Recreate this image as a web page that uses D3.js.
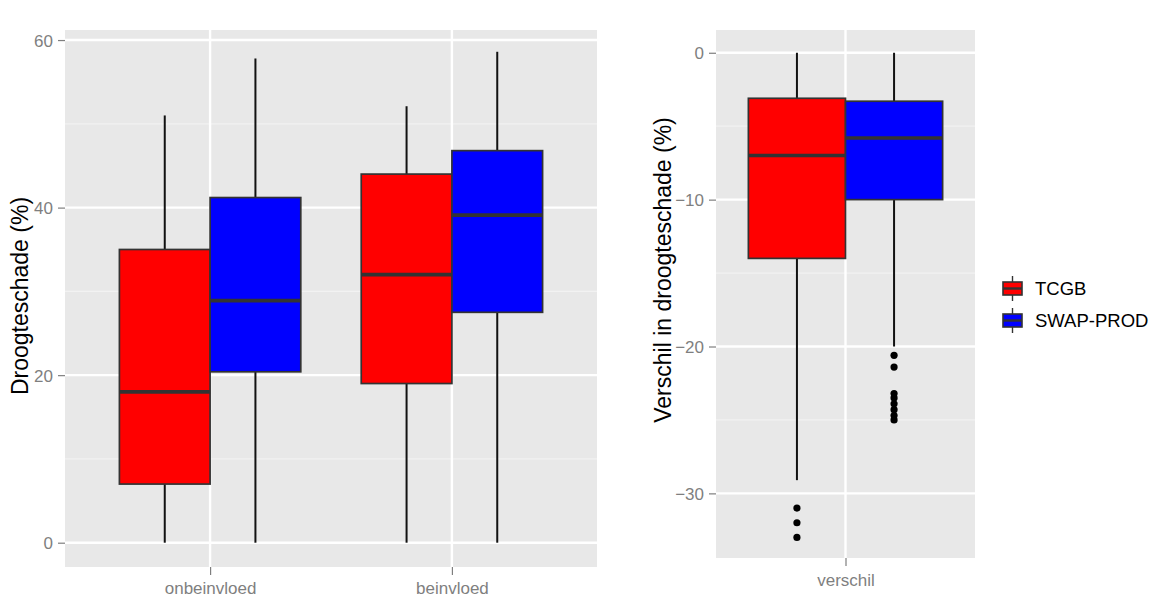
<!DOCTYPE html>
<html>
<head>
<meta charset="utf-8">
<script src="https://cdn.jsdelivr.net/npm/d3@7"></script>
<style>
  html, body { margin: 0; padding: 0; background: #fff; }
  svg { display: block; font-family: "Liberation Sans", Arial, sans-serif; }
</style>
</head>
<body>
<svg id="chart" width="1157" height="597"></svg>
<script>
// ---- data -------------------------------------------------------------
const series = ["TCGB", "SWAP-PROD"];
const seriesColors = ["#FF0000", "#0000FF"];

// Left panel: drought damage per group
const groups = ["onbeinvloed", "beinvloed"];
// box statistics per group: [lower whisker, Q1, median, Q3, upper whisker]
const tcgbDamage = [[0, 7.0, 18.0, 35.0, 51.0], [0, 19.0, 32.0, 44.0, 52.1]];
const swapDamage = [[0, 20.4, 28.9, 41.2, 57.8], [0, 27.5, 39.1, 46.8, 58.6]];
const damageTicks = [0, 20, 40, 60];
const damageMinor = [10, 30, 50];

// Right panel: difference in drought damage
const diffGroups = ["verschil"];
const tcgbDiff = [[-29.1, -14.0, -7.0, -3.1, 0]];
const swapDiff = [[-20.0, -10.0, -5.8, -3.3, 0]];
const tcgbDiffOutliers = [[-31.0, -32.0, -33.0]];
const swapDiffOutliers = [[-20.6, -21.4, -23.2, -23.5, -23.9, -24.3, -24.7, -25.0]];
const diffTicks = [0, -10, -20, -30];
const diffMinor = [-5, -15, -25];

const titles = { left: "Droogteschade (%)", right: "Verschil in droogteschade (%)" };

// ---- drawing ----------------------------------------------------------
const svg = d3.select("#chart");
const fmt = d3.format("d");

function panel(opts) {
  const { x0, x1, y0, y1, cats, padding, yDomain, ticks, minor, stats, outliers, title, titleX, titleY, labelY } = opts;
  const g = svg.append("g");

  const x = d3.scalePoint().domain(cats).range([x0, x1]).padding(padding);
  const y = d3.scaleLinear().domain(yDomain).range([y1, y0]);
  const step = x.step();
  const dodge = d3.scaleBand().domain(series).range([-0.375 * step, 0.375 * step]);

  // background + grid
  g.append("rect").attr("x", x0).attr("y", y0).attr("width", x1 - x0).attr("height", y1 - y0)
    .attr("fill", "#E8E8E8");
  g.selectAll(".minor").data(minor).join("line")
    .attr("x1", x0).attr("x2", x1).attr("y1", d => y(d)).attr("y2", d => y(d))
    .attr("stroke", "#F2F2F2").attr("stroke-width", 1.2);
  g.selectAll(".major").data(ticks).join("line")
    .attr("x1", x0).attr("x2", x1).attr("y1", d => y(d)).attr("y2", d => y(d))
    .attr("stroke", "#FFFFFF").attr("stroke-width", 2.4);
  g.selectAll(".vmajor").data(cats).join("line")
    .attr("x1", d => x(d)).attr("x2", d => x(d)).attr("y1", y0).attr("y2", y1)
    .attr("stroke", "#FFFFFF").attr("stroke-width", 2.4);

  // boxes
  series.forEach((s, si) => {
    cats.forEach((c, ci) => {
      const [lo, q1, med, q3, hi] = stats[si][ci];
      const bx = x(c) + dodge(s);
      const bw = dodge.bandwidth();
      const cx = bx + bw / 2;
      const bg = g.append("g");
      bg.append("line").attr("x1", cx).attr("x2", cx).attr("y1", y(hi)).attr("y2", y(q3))
        .attr("stroke", "#111111").attr("stroke-width", 2);
      bg.append("line").attr("x1", cx).attr("x2", cx).attr("y1", y(q1)).attr("y2", y(lo))
        .attr("stroke", "#111111").attr("stroke-width", 2);
      bg.append("rect").attr("x", bx).attr("y", y(q3)).attr("width", bw).attr("height", y(q1) - y(q3))
        .attr("fill", seriesColors[si]).attr("stroke", "#333333").attr("stroke-width", 1.7);
      bg.append("line").attr("x1", bx).attr("x2", bx + bw).attr("y1", y(med)).attr("y2", y(med))
        .attr("stroke", "#333333").attr("stroke-width", 3.6);
      if (outliers) {
        bg.selectAll("circle").data(outliers[si][ci]).join("circle")
          .attr("cx", cx).attr("cy", d => y(d)).attr("r", 3.6).attr("fill", "#000");
      }
    });
  });

  // axes
  const ya = g.append("g").attr("transform", `translate(${x0},0)`)
    .call(d3.axisLeft(y).tickValues(ticks).tickFormat(fmt).tickSize(7).tickPadding(5));
  const xa = g.append("g").attr("transform", `translate(0,${y1})`)
    .call(d3.axisBottom(x).tickSize(8).tickPadding(6));
  [ya, xa].forEach(a => {
    a.select(".domain").remove();
    a.selectAll(".tick line").attr("stroke", "#7F7F7F").attr("stroke-width", 1.2);
    a.selectAll(".tick text").attr("fill", "#7F7F7F").attr("font-size", 17)
      .attr("font-family", "Liberation Sans, Arial, sans-serif");
  });
  xa.selectAll(".tick text").attr("dy", null).attr("y", labelY - y1);
  ya.selectAll(".tick text").attr("dy", "0.36em");

  g.append("text").attr("transform", `translate(${titleX},${titleY}) rotate(-90)`)
    .attr("text-anchor", "middle").attr("font-size", 23).attr("fill", "#000").text(title);
}

panel({
  x0: 65, x1: 597, y0: 30, y1: 567, cats: groups, padding: 0.6,
  yDomain: [-2.9, 61.2], ticks: damageTicks, minor: damageMinor,
  stats: [tcgbDamage, swapDamage], outliers: null,
  title: titles.left, titleX: 28, titleY: 296, labelY: 594
});

panel({
  x0: 716, x1: 975, y0: 30, y1: 558, cats: diffGroups, padding: 0.5,
  yDomain: [-34.4, 1.55], ticks: diffTicks, minor: diffMinor,
  stats: [tcgbDiff, swapDiff], outliers: [tcgbDiffOutliers, swapDiffOutliers],
  title: titles.right, titleX: 671, titleY: 270, labelY: 586
});

// legend
const legend = svg.append("g").attr("transform", "translate(1003,276)");
series.forEach((s, i) => {
  const k = legend.append("g").attr("transform", `translate(0,${i * 32})`);
  k.append("line").attr("x1", 9.5).attr("x2", 9.5).attr("y1", 0).attr("y2", 25)
    .attr("stroke", "#333333").attr("stroke-width", 1.4);
  k.append("rect").attr("x", 0).attr("y", 6).attr("width", 19).attr("height", 13)
    .attr("fill", seriesColors[i]).attr("stroke", "#333333").attr("stroke-width", 1.6);
  k.append("line").attr("x1", 0).attr("x2", 19).attr("y1", 12.5).attr("y2", 12.5)
    .attr("stroke", "#333333").attr("stroke-width", 2.4);
  k.append("text").attr("x", 32).attr("y", 19).attr("font-size", 18.5).attr("fill", "#000").text(s);
});
</script>
</body>
</html>
